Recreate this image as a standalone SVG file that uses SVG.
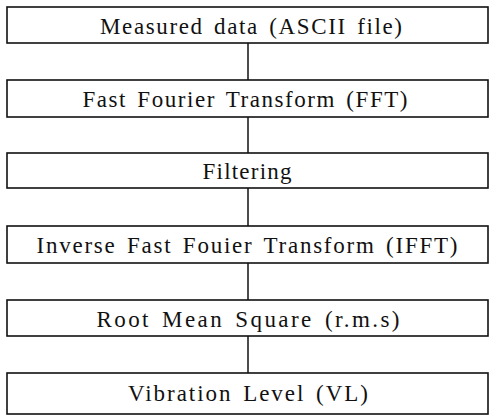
<svg xmlns="http://www.w3.org/2000/svg" width="489" height="417" viewBox="0 0 489 417">
<style>
.box{fill:#fff;stroke:#111;stroke-width:1.6}
.lbl{font-family:"Liberation Serif","Times New Roman",serif;font-size:23px;fill:#111;text-anchor:middle;word-spacing:3px}
.conn{stroke:#111;stroke-width:1.5;fill:none}
</style>
<rect width="489" height="417" fill="#fff"/>
<g id="connectors">
<line class="conn" x1="248" y1="43" x2="248" y2="80"/>
<line class="conn" x1="248" y1="117" x2="248" y2="153"/>
<line class="conn" x1="248" y1="188" x2="248" y2="226"/>
<line class="conn" x1="248" y1="263" x2="248" y2="300"/>
<line class="conn" x1="248" y1="336" x2="248" y2="373"/>
</g>
<g id="n1"><rect class="box" x="7" y="7" width="481" height="36"/><text class="lbl" x="251" y="34" textLength="302" lengthAdjust="spacing">Measured data (ASCII file)</text></g>
<g id="n2"><rect class="box" x="7" y="80" width="481" height="37"/><text class="lbl" x="245" y="107" textLength="325" lengthAdjust="spacing">Fast Fourier Transform (FFT)</text></g>
<g id="n3"><rect class="box" x="7" y="153" width="481" height="35"/><text class="lbl" x="247" y="179" textLength="89" lengthAdjust="spacing">Filtering</text></g>
<g id="n4"><rect class="box" x="7" y="226" width="481" height="37"/><text class="lbl" x="247" y="253" textLength="421" lengthAdjust="spacing">Inverse Fast Fouier Transform (IFFT)</text></g>
<g id="n5"><rect class="box" x="7" y="300" width="481" height="36"/><text class="lbl" x="248" y="327" textLength="303" lengthAdjust="spacing">Root Mean Square (r.m.s)</text></g>
<g id="n6"><rect class="box" x="7" y="373" width="481" height="41"/><text class="lbl" x="248" y="401" textLength="240" lengthAdjust="spacing">Vibration Level (VL)</text></g>
</svg>
